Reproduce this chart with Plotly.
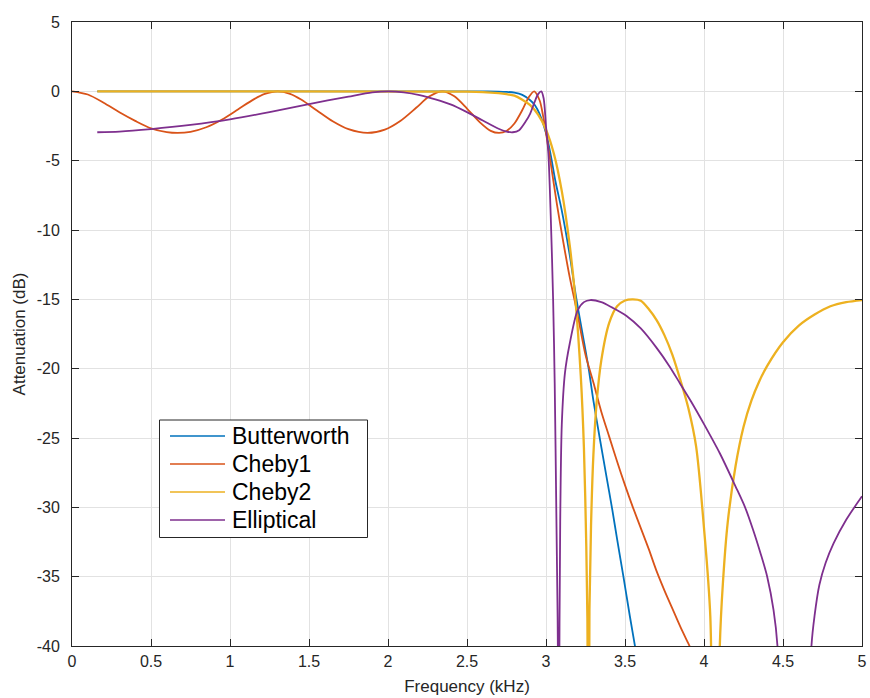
import plotly.graph_objects as go

# ---------------- data ----------------
x_tick_vals = [0, 0.5, 1, 1.5, 2, 2.5, 3, 3.5, 4, 4.5, 5]
x_tick_text = ["0", "0.5", "1", "1.5", "2", "2.5", "3", "3.5", "4", "4.5", "5"]
y_tick_vals = [5, 0, -5, -10, -15, -20, -25, -30, -35, -40]
y_tick_text = ["5", "0", "-5", "-10", "-15", "-20", "-25", "-30", "-35", "-40"]

series_names = ["Butterworth", "Cheby1", "Cheby2", "Elliptical"]
series_colors = ["#0072BD", "#D95319", "#EDB120", "#7E2F8E"]
series_widths = [1.8, 1.8, 2.3, 1.8]

butter_f = [0.16, 2.5, 2.6, 2.7, 2.75, 2.8, 2.85, 2.9, 2.93, 2.96, 3.0, 3.03, 3.06,
            3.1, 3.15, 3.19, 3.23, 3.27, 3.3, 3.34, 3.38, 3.42, 3.45, 3.49, 3.53,
            3.563, 3.6]
butter_db = [0, -0.005, -0.01, -0.015, -0.04, -0.1, -0.26, -0.64, -1.0, -1.65, -3.0,
             -4.6, -6.5, -8.6, -11.8, -14.8, -17.4, -20.0, -22.3, -25.0, -27.6, -30.2,
             -32.3, -35.0, -37.8, -40.0, -42.5]

cheby1_f = [0, 0.1, 0.2, 0.3, 0.4, 0.5, 0.6, 0.668, 0.75, 0.85, 0.95, 1.05, 1.15, 1.22,
            1.302, 1.38, 1.45, 1.55, 1.65, 1.75, 1.87, 1.98, 2.08, 2.18, 2.26, 2.345,
            2.42, 2.5, 2.58, 2.65, 2.703, 2.75, 2.8, 2.85, 2.89, 2.925, 2.96, 2.98, 3.0,
            3.03, 3.07, 3.11, 3.15, 3.2, 3.25, 3.3, 3.35, 3.4, 3.45, 3.5, 3.55, 3.6,
            3.65, 3.7, 3.75, 3.8, 3.85, 3.9, 3.95]
cheby1_db = [0, -0.23, -0.82, -1.51, -2.13, -2.67, -2.94, -3.0, -2.92, -2.59, -2.03,
             -1.31, -0.58, -0.19, 0, -0.18, -0.59, -1.38, -2.16, -2.73, -3.0, -2.76,
             -2.12, -1.17, -0.38, 0, -0.36, -1.24, -2.22, -2.85, -3.0, -2.86, -2.32,
             -1.35, -0.44, 0, -0.66, -1.68, -3.0, -5.2, -8.2, -10.9, -13.4, -16.1,
             -19.0, -21.0, -23.1, -24.9, -26.7, -28.4, -30.0, -31.5, -33.0, -34.6,
             -36.0, -37.3, -38.6, -39.8, -41.0]

cheby2_f = [0.16, 2.5, 2.6, 2.7, 2.75, 2.8, 2.85, 2.9, 2.95, 3.0, 3.05, 3.1, 3.15, 3.186,
            3.22, 3.24, 3.255, 3.262, 3.268, 3.275, 3.285, 3.3, 3.32, 3.35, 3.4, 3.45,
            3.5, 3.55, 3.6, 3.65, 3.7, 3.75, 3.8, 3.85, 3.9, 3.95, 4.0, 4.04,
            4.07, 4.1, 4.12, 4.15, 4.2, 4.25, 4.3, 4.35, 4.4, 4.5, 4.6, 4.7, 4.8, 4.9,
            5.0]
cheby2_db = [0, -0.02, -0.05, -0.13, -0.2, -0.31, -0.6, -1.0, -1.68, -2.76, -4.5, -7.2,
             -11.1, -15.0, -20.5, -25.7, -32.8, -38.0, -70.0, -37.4, -31.3, -26.2, -22.5,
             -19.4, -16.7, -15.5, -15.08, -15.0, -15.1, -15.7, -16.5, -17.6,
             -19.0, -20.8, -22.8, -25.6, -31.5, -37.9, -70.0, -40.0, -35.4, -31.1, -27.0,
             -24.2, -22.3, -20.9, -19.8, -18.1, -16.9, -16.1, -15.5, -15.2, -15.05]

ellip_f = [0.16, 0.3, 0.5, 0.75, 1.0, 1.25, 1.5, 1.75, 1.9, 2.0, 2.1, 2.2, 2.3, 2.4, 2.5,
           2.6, 2.7, 2.75, 2.79, 2.83, 2.87, 2.9, 2.93, 2.95, 2.97, 2.985, 3.0, 3.015,
           3.03, 3.045, 3.055, 3.065, 3.075, 3.08, 3.085, 3.09, 3.1, 3.12, 3.15, 3.2,
           3.24, 3.28, 3.35, 3.42, 3.51, 3.6, 3.7, 3.78, 3.85, 3.92, 4.0, 4.1, 4.2,
           4.26, 4.31, 4.36, 4.4, 4.44, 4.465, 4.57, 4.68, 4.7, 4.73, 4.77, 4.82, 4.9,
           5.0]
ellip_db = [-2.95, -2.9, -2.72, -2.42, -2.02, -1.5, -0.92, -0.38, -0.08, 0, -0.07, -0.27,
            -0.58, -0.96, -1.5, -2.1, -2.7, -2.9, -2.95, -2.8, -2.2, -1.6, -0.7, -0.2, 0,
            -0.5, -2.5, -4.5, -9.0, -15.0, -21.0, -30.0, -40.0, -80.0, -40.0, -31.0,
            -24.0, -20.3, -18.2, -15.8, -15.2, -15.05, -15.2, -15.6, -16.2, -17.1, -18.5,
            -19.8, -21.1, -22.4, -24.0, -26.1, -28.5, -30.0, -31.6, -33.4, -35.0, -37.4,
            -40.0, -80.0, -40.0, -37.8, -35.6, -34.0, -32.6, -30.9, -29.2]

series_f = [butter_f, cheby1_f, cheby2_f, ellip_f]
series_db = [butter_db, cheby1_db, cheby2_db, ellip_db]

# ---------------- figure ----------------
W, H = 870, 698
L, R, T, B = 72, 8, 22, 52
AX = "#262626"
FONT = "Liberation Sans, Arial, Helvetica, sans-serif"

fig = go.Figure()
for name, color, lw, f, db in zip(series_names, series_colors, series_widths,
                                  series_f, series_db):
    fig.add_trace(go.Scatter(x=f, y=db, mode="lines", name=name,
                             line=dict(color=color, width=lw, shape="spline",
                                       smoothing=0.8),
                             showlegend=False))

axis_common = dict(
    showline=True, linecolor=AX, linewidth=1, mirror="ticks",
    ticks="inside", ticklen=7, tickwidth=1, tickcolor=AX,
    showgrid=True, gridcolor="#e2e2e2", gridwidth=1, zeroline=False,
    tickfont=dict(family=FONT, size=16, color=AX), automargin=False,
)
fig.update_xaxes(range=[0, 5], tickmode="array", tickvals=x_tick_vals,
                 ticktext=x_tick_text, ticklabelstandoff=1,
                 title=dict(text="Frequency (kHz)", standoff=10,
                            font=dict(family=FONT, size=17, color=AX)),
                 **axis_common)
fig.update_yaxes(range=[-40, 5], tickmode="array", tickvals=y_tick_vals,
                 ticktext=y_tick_text, ticklabelstandoff=8,
                 title=dict(text="Attenuation (dB)", standoff=6,
                            font=dict(family=FONT, size=17, color=AX)),
                 **axis_common)

# ---------------- legend (drawn like MATLAB's boxed legend) ----------------
pw, ph = W - L - R, H - T - B
def px(xp):
    return (xp - L) / pw
def py(yp):
    return (H - B - yp) / ph

shapes = [dict(type="rect", xref="paper", yref="paper",
               x0=px(159.5), x1=px(367.5), y0=py(537.5), y1=py(420),
               line=dict(color=AX, width=1), fillcolor="white", layer="above")]
annotations = []
rows = [436, 464, 492, 520]
for name, color, yr in zip(series_names, series_colors, rows):
    shapes.append(dict(type="line", xref="paper", yref="paper",
                       x0=px(170), x1=px(225), y0=py(yr), y1=py(yr),
                       line=dict(color=color, width=1.5), layer="above"))
    annotations.append(dict(xref="paper", yref="paper", x=px(230), y=py(yr),
                            text=name, showarrow=False, xanchor="left",
                            yanchor="middle",
                            font=dict(family=FONT, size=23, color="#000000")))

fig.update_layout(
    width=W, height=H,
    margin=dict(l=L, r=R, t=T, b=B, pad=0, autoexpand=False),
    paper_bgcolor="white", plot_bgcolor="white",
    font=dict(family=FONT, color=AX),
    shapes=shapes, annotations=annotations,
    showlegend=False,
)

fig.write_html("out.html", config={"displayModeBar": False},
               post_script="document.body.style.margin='0';document.body.style.overflow='hidden';")
